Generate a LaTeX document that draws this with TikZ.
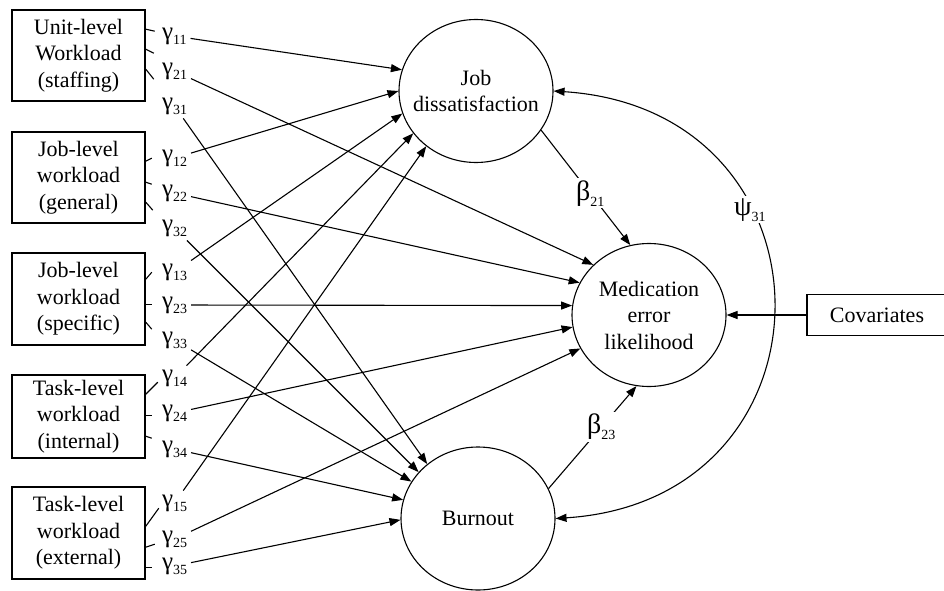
\documentclass[tikz,border=0pt]{standalone}
\usepackage{fontspec}
\setmainfont{Liberation Serif}
\usepackage{tikz}
\usetikzlibrary{arrows.meta,shapes.geometric,calc}

\newcommand{\coef}[2]{{\fontsize{25}{28}\selectfont #1}\raisebox{-5pt}{\fontsize{14}{16}\selectfont #2}}
\newcommand{\bcoef}[2]{{\fontsize{28}{30}\selectfont #1}\raisebox{-6pt}{\fontsize{14}{16}\selectfont #2}}

\begin{document}
\begin{tikzpicture}[x=1pt, y=-1pt, line width=1.1pt,
    every node/.style={font=\fontsize{22}{26.5}\selectfont},
    caixa/.style={draw, line width=1.6pt, align=center, minimum width=133pt, inner sep=2pt},
    latente/.style={ellipse, draw, line width=1.1pt, minimum width=154pt, minimum height=143pt, inner sep=0pt},
    coefnode/.style={inner sep=1pt, outer sep=3pt},
    seta/.style={-{Triangle[length=11pt,width=8pt]}}]
    \useasboundingbox (0,0) rectangle (944,591);

    % caixas da esquerda
    \node[caixa, minimum height=91pt] (b1) at (78.5,55.5) {Unit-level\\Workload\\(staffing)};
    \node[caixa, minimum height=91pt] (b2) at (78.5,177.5) {Job-level\\workload\\(general)};
    \node[caixa, minimum height=92pt] (b3) at (78.5,299) {Job-level\\workload\\(specific)};
    \node[caixa, minimum height=83pt] (b4) at (78.5,416.5) {Task-level\\workload\\(internal)};
    \node[caixa, minimum height=92pt] (b5) at (78.5,533) {Task-level\\workload\\(external)};

    % variaveis latentes
    \node[latente, label={[align=center]center:Job\\dissatisfaction}] (jd) at (476,91) {};
    \node[latente, label={[align=center]center:Medication\\error\\likelihood}] (med) at (649,315) {};
    \node[latente, label={center:Burnout}] (bo) at (478,518.5) {};

    % covariaveis
    \node[caixa, minimum width=140pt, minimum height=41pt] (cov) at (877,315) {Covariates};
    \draw[seta] (cov) -- (med);

    % coeficientes gamma
    \foreach \n/\y in {11/36, 21/71, 31/106, 12/158, 22/193, 32/228, 13/272, 23/305, 33/340,
                       14/378, 24/413, 34/449, 15/503, 25/539, 35/566}
        \node[coefnode, anchor=west] (g\n) at (158,\y) {\coef{γ}{\n}};

    % tracinhos junto das caixas
    \foreach \b/\dy/\ex/\ey in {b1/20/9/2, b1/40/8/4, b1/60/8/10,
                                b2/30/6/-3, b2/51/6/2, b2/71/7/8,
                                b3/27/6/-7, b3/52/6/0, b3/70/6/7,
                                b4/20/12/-12, b4/41/6/0, b4/62/6/2,
                                b5/40/13/-18, b5/61/9/-3, b5/81/6/0}
        \draw ($(\b.north east)+(0,\dy)$) -- ++(\ex,\ey);

    % setas gamma
    \foreach \g/\t in {11/jd.164, 12/jd.180, 13/jd.197, 14/jd.214, 15/jd.228,
                       21/med.138, 22/med.155, 23/med.173, 24/med.189, 25/med.206,
                       31/bo.133, 32/bo.142, 33/bo.151, 34/bo.166, 35/bo.181}
        \draw[seta] (g\g) -- (\t);

    % beta e psi
    \draw[seta] (jd.-31) -- node[pos=0.55, fill=white, inner sep=2pt] {\bcoef{β}{21}} (med.105);
    \draw[seta] (bo.23) -- node[pos=0.6, fill=white, inner sep=2pt] {\bcoef{β}{23}} (med.-100);
    \draw[{Triangle[length=11pt,width=8pt]}-{Triangle[length=11pt,width=8pt]}]
        (jd.0) .. controls (845,110) and (845,500) .. node[pos=0.34, fill=white, inner sep=2pt] {\bcoef{ψ}{31}} (bo.0);

\end{tikzpicture}
\end{document}
